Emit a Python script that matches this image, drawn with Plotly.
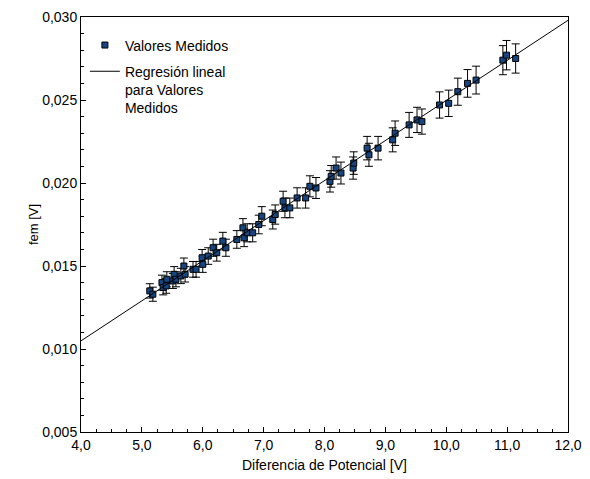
import plotly.graph_objects as go

# valores medidos
dif_potencial = [5.13, 5.18, 5.33, 5.35, 5.41, 5.40, 5.51, 5.53, 5.56, 5.64,
                 5.69, 5.71, 5.84, 5.89, 5.99, 6.00, 6.09, 6.17, 6.23, 6.33,
                 6.38, 6.56, 6.66, 6.68, 6.73, 6.82, 6.92, 6.97, 7.15, 7.19,
                 7.32, 7.35, 7.43, 7.55, 7.69, 7.76, 7.86, 8.09, 8.11, 8.19,
                 8.27, 8.47, 8.48, 8.70, 8.73, 8.88, 9.12, 9.16, 9.39, 9.52,
                 9.60, 9.89, 10.04, 10.19, 10.35, 10.49, 10.93, 10.99, 11.14]
fem = [0.0135, 0.0133, 0.0140, 0.0137, 0.0142, 0.0138, 0.0141, 0.0145, 0.0142, 0.0144,
       0.0150, 0.0145, 0.0148, 0.0148, 0.0155, 0.0151, 0.0156, 0.0161, 0.0158, 0.0165,
       0.0161, 0.0166, 0.0173, 0.0167, 0.0170, 0.0170, 0.0175, 0.0180, 0.0178, 0.0181,
       0.0189, 0.0185, 0.0185, 0.0191, 0.0191, 0.0198, 0.0197, 0.0201, 0.0204, 0.0209,
       0.0206, 0.0209, 0.0212, 0.0221, 0.0217, 0.0221, 0.0226, 0.0230, 0.0235, 0.0238,
       0.0237, 0.0247, 0.0248, 0.0255, 0.0260, 0.0262, 0.0274, 0.0277, 0.0275]

# regresion lineal (extremos)
reg_x = [4.0, 12.0]
reg_y = [0.01049, 0.02980]

fuente = "Liberation Sans, Arial, sans-serif"

fig = go.Figure()

fig.add_trace(go.Scatter(
    x=dif_potencial, y=fem, mode="markers", name="Valores Medidos",
    legendgroup="medidos",
    marker=dict(symbol="square", size=6, color="#17457f",
                line=dict(color="black", width=1)),
    error_y=dict(type="percent", value=3.2, color="black", thickness=1, width=4),
))

fig.add_trace(go.Scatter(
    x=reg_x, y=reg_y, mode="lines",
    name="Regresión lineal<br>para Valores<br>Medidos",
    legendgroup="regresion",
    line=dict(color="black", width=1),
))

eje = dict(showline=True, linecolor="black", linewidth=1, mirror=True,
           showgrid=False, zeroline=False, ticks="inside", ticklen=5,
           tickcolor="black", tickfont=dict(size=14, color="black"),
           automargin=False)

fig.update_xaxes(range=[4, 12], dtick=1, tickformat=".1f",
                 minor=dict(dtick=0.25, ticks="inside", ticklen=3, tickcolor="black"),
                 title=dict(text="Diferencia de Potencial [V]", font=dict(size=14), standoff=8),
                 **eje)
fig.update_yaxes(range=[0.005, 0.030], dtick=0.005, tickformat=".3f",
                 minor=dict(dtick=0.001, ticks="inside", ticklen=3, tickcolor="black"),
                 title=dict(text="fem [V]", font=dict(size=13), standoff=0),
                 **eje)

# la pagina desplaza el grafico 8 px; se compensa con el tamano y margenes
fig.update_layout(
    width=582, height=471,
    margin=dict(l=73, r=22, t=9, b=47),
    paper_bgcolor="white", plot_bgcolor="white",
    separators=", ",
    font=dict(family=fuente, color="black", size=13),
    showlegend=True,
    legend=dict(x=0.008, y=0.97, xanchor="left", yanchor="top",
                bgcolor="rgba(0,0,0,0)", font=dict(size=14),
                valign="top", traceorder="grouped", tracegroupgap=5),
)

fig.write_html("out.html")
